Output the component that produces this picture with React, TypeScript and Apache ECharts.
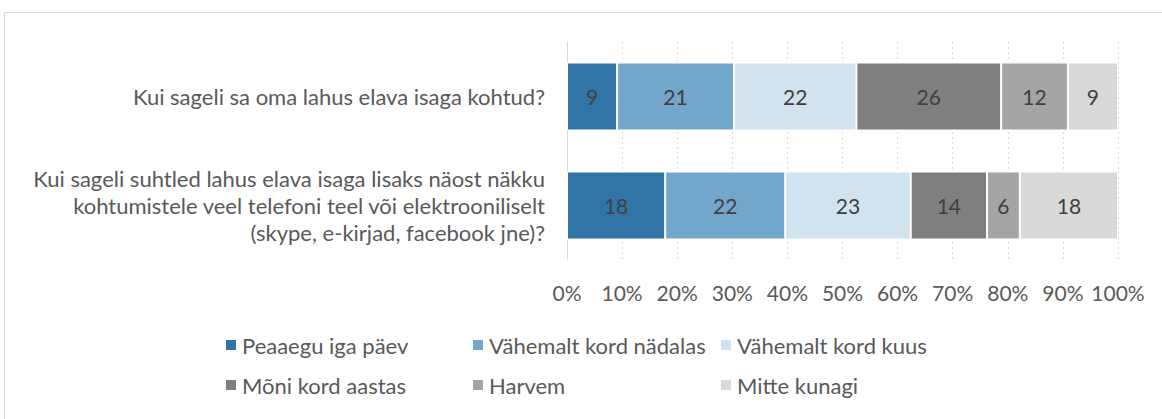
import React, { useEffect, useRef } from "react";
import * as echarts from "echarts";

const categories = [
  "Kui sageli sa oma lahus elava isaga kohtud?",
  "Kui sageli suhtled lahus elava isaga lisaks näost näkku\nkohtumistele veel telefoni teel või elektrooniliselt\n(skype, e-kirjad, facebook jne)?",
];
const seriesNames = [
  "Peaaegu iga päev",
  "Vähemalt kord nädalas",
  "Vähemalt kord kuus",
  "Mõni kord aastas",
  "Harvem",
  "Mitte kunagi",
];
const q1Values = [9, 21, 22, 26, 12, 9];
const q2Values = [18, 22, 23, 14, 6, 18];
const colors = ["#3174A6", "#72A6CC", "#D2E3F0", "#7F7F7F", "#A5A5A5", "#D9D9D9"];
const xTicks = [0, 10, 20, 30, 40, 50, 60, 70, 80, 90, 100];

const rows = [q1Values, q2Values];
const sums = rows.map((r) => r.reduce((a, b) => a + b, 0));

const FONT = "Lato";
const legendPos = [
  { left: 224, top: 334 },
  { left: 471, top: 334 },
  { left: 719, top: 334 },
  { left: 224, top: 374 },
  { left: 471, top: 374 },
  { left: 719, top: 374 },
];

export default function App() {
  const ref = useRef<HTMLDivElement>(null);
  useEffect(() => {
    document.body.style.margin = "0";
    if (!ref.current) return;
    const chart = echarts.init(ref.current, null, { renderer: "svg" });
    const series = seriesNames.map((name, i) => ({
      name,
      type: "bar",
      stack: "total",
      barWidth: 68,
      itemStyle: { color: colors[i], borderColor: "#ffffff", borderWidth: 1 },
      label: {
        show: true,
        position: "inside",
        color: "#404040",
        fontFamily: FONT,
        fontSize: 21,
        formatter: (p: any) => String(rows[p.dataIndex][i]),
      },
      data: rows.map((r, k) => (r[i] / sums[k]) * 100),
    }));
    chart.setOption({
      animation: false,
      textStyle: { fontFamily: FONT },
      graphic: [
        {
          type: "rect",
          shape: { x: 4.5, y: 12.5, width: 1200, height: 500 },
          style: { fill: "none", stroke: "#D9D9D9", lineWidth: 1 },
          silent: true,
        },
      ],
      grid: { left: 567, right: 44, top: 42, bottom: 159 },
      xAxis: {
        type: "value",
        min: 0,
        max: 100,
        interval: 10,
        axisLine: { show: false },
        axisTick: { show: false },
        splitLine: { show: true, lineStyle: { color: "#D9D9D9", type: [2, 3] } },
        axisLabel: {
          formatter: (v: number) => (xTicks.includes(v) ? v + "%" : ""),
          color: "#595959",
          fontSize: 21,
          fontFamily: FONT,
          margin: 22,
        },
      },
      yAxis: {
        type: "category",
        inverse: true,
        data: categories,
        axisLine: { show: true, lineStyle: { color: "#D9D9D9" } },
        axisTick: { show: false },
        axisLabel: {
          color: "#595959",
          fontSize: 22,
          fontFamily: FONT,
          margin: 22,
          align: "right",
          lineHeight: 27,
        },
      },
      legend: legendPos.map((p, i) => ({
        data: [seriesNames[i]],
        left: p.left,
        top: p.top,
        padding: 0,
        itemWidth: 12,
        itemHeight: 12,
        icon: "rect",
        textStyle: { color: "#595959", fontSize: 22, fontFamily: FONT },
      })),
      series,
    });
    return () => chart.dispose();
  }, []);
  return <div ref={ref} style={{ width: 1162, height: 419 }} />;
}
